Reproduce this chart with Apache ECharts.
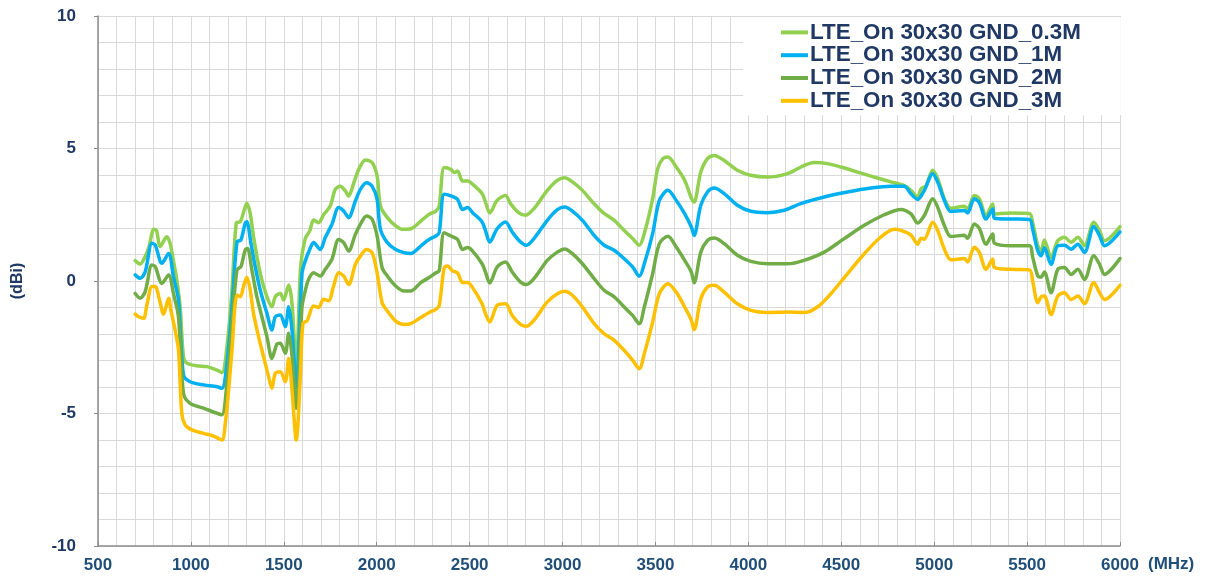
<!DOCTYPE html>
<html>
<head>
<meta charset="utf-8">
<script src="https://cdn.jsdelivr.net/npm/echarts@6/dist/echarts.min.js"></script>
<style>
  html, body { margin: 0; padding: 0; background: #fff; }
  #chart { width: 1212px; height: 580px; }
</style>
</head>
<body>
<div id="chart"></div>
<script>
// 系列名称 / 颜色
const names = ['LTE_On 30x30 GND_0.3M', 'LTE_On 30x30 GND_1M', 'LTE_On 30x30 GND_2M', 'LTE_On 30x30 GND_3M']
const colors = ['#92d050', '#00b0f0', '#70ad47', '#ffc000']

// 0.3M
const freq03 = [700, 727, 754, 775, 800, 815, 835, 870, 888, 905, 924, 942, 960, 978, 1032, 1086, 1140, 1167, 1194, 1221, 1244, 1266, 1287, 1301, 1319, 1337, 1373, 1409, 1436, 1454, 1481, 1499, 1526, 1544, 1567, 1590, 1615, 1640, 1660, 1687, 1714, 1750, 1777, 1804, 1831, 1849, 1877, 1903, 1939, 1975, 2002, 2020, 2057, 2102, 2138, 2183, 2237, 2282, 2318, 2336, 2363, 2399, 2417, 2435, 2462, 2489, 2516, 2567, 2585, 2608, 2648, 2693, 2720, 2765, 2801, 2846, 2918, 2972, 3012, 3053, 3107, 3161, 3215, 3278, 3332, 3377, 3413, 3440, 3485, 3512, 3540, 3567, 3612, 3657, 3695, 3708, 3744, 3780, 3816, 3870, 3941, 4013, 4103, 4211, 4282, 4354, 4426, 4498, 4588, 4678, 4767, 4839, 4875, 4911, 4929, 4956, 4992, 5019, 5055, 5090, 5162, 5180, 5216, 5243, 5279, 5315, 5324, 5414, 5513, 5530, 5557, 5575, 5593, 5629, 5665, 5701, 5737, 5773, 5809, 5859, 5890, 5917, 6000]
const gain03 = [0.77, 0.64, 0.92, 1.3, 1.95, 1.9, 1.3, 1.67, 1.42, 0.8, 0.04, -0.97, -2.86, -3.1, -3.2, -3.23, -3.36, -3.46, -2.48, -0.34, 2.18, 2.24, 2.68, 2.93, 2.55, 1.67, 0.29, -0.59, -0.97, -0.59, -0.47, -0.72, -0.15, -0.84, -3.3, 0.5, 1.6, 1.9, 2.3, 2.2, 2.5, 2.83, 3.46, 3.58, 3.4, 3.2, 3.71, 4.21, 4.57, 4.47, 3.96, 2.83, 2.39, 2.08, 1.95, 1.97, 2.26, 2.52, 2.64, 2.83, 4.28, 4.21, 4.09, 4.15, 3.77, 3.77, 3.65, 3.3, 2.98, 2.57, 3.04, 3.23, 2.92, 2.57, 2.48, 2.73, 3.42, 3.8, 3.9, 3.74, 3.42, 2.98, 2.6, 2.29, 1.91, 1.6, 1.35, 1.79, 3.11, 4.24, 4.62, 4.68, 4.3, 3.8, 3.1, 2.98, 4.11, 4.62, 4.74, 4.55, 4.18, 3.99, 3.92, 4.05, 4.3, 4.47, 4.43, 4.3, 4.11, 3.92, 3.74, 3.6, 3.42, 3.16, 3.48, 3.6, 4.18, 3.86, 3.1, 2.75, 2.82, 2.72, 3.23, 3.1, 2.47, 2.91, 2.53, 2.57, 2.55, 2.2, 1.35, 1.1, 1.55, 0.89, 1.52, 1.65, 1.46, 1.65, 1.33, 2.22, 1.9, 1.52, 2.05]

// 1M
const freq1 = [700, 727, 754, 790, 808, 844, 880, 906, 933, 960, 996, 1068, 1140, 1167, 1194, 1221, 1248, 1269, 1292, 1301, 1323, 1346, 1373, 1409, 1436, 1454, 1481, 1508, 1526, 1544, 1567, 1598, 1615, 1640, 1660, 1696, 1723, 1759, 1795, 1822, 1849, 1885, 1912, 1945, 1975, 2002, 2020, 2057, 2102, 2147, 2183, 2237, 2282, 2318, 2336, 2363, 2399, 2435, 2462, 2489, 2516, 2567, 2585, 2608, 2648, 2693, 2729, 2774, 2806, 2846, 2918, 2972, 3012, 3053, 3107, 3170, 3224, 3278, 3332, 3377, 3413, 3440, 3485, 3521, 3567, 3612, 3657, 3693, 3708, 3744, 3780, 3816, 3870, 3941, 4013, 4103, 4193, 4282, 4408, 4534, 4660, 4767, 4839, 4875, 4911, 4947, 4992, 5019, 5055, 5090, 5162, 5180, 5216, 5243, 5279, 5315, 5324, 5414, 5513, 5530, 5557, 5575, 5593, 5629, 5665, 5701, 5737, 5773, 5809, 5859, 5890, 5917, 6000]
const gain1 = [0.23, 0.1, 0.35, 1.42, 1.36, 0.67, 1.04, 0.16, -0.72, -3.55, -3.8, -3.92, -3.99, -4.05, -3.1, -0.97, 1.48, 1.55, 2.18, 2.24, 1.42, 0.54, -0.34, -1.22, -1.85, -1.35, -1.28, -1.72, -0.97, -1.85, -4.0, 0.29, 0.75, 1.2, 1.45, 1.19, 1.64, 2.14, 2.77, 2.64, 2.39, 3.02, 3.46, 3.71, 3.58, 3.08, 1.95, 1.45, 1.19, 1.07, 1.04, 1.32, 1.57, 1.7, 1.82, 3.27, 3.21, 3.08, 2.7, 2.77, 2.58, 2.23, 1.91, 1.47, 1.97, 2.23, 1.85, 1.47, 1.35, 1.6, 2.29, 2.69, 2.79, 2.64, 2.29, 1.72, 1.35, 1.16, 0.84, 0.53, 0.18, 0.65, 1.79, 3.04, 3.42, 3.04, 2.54, 2.04, 1.72, 2.86, 3.36, 3.51, 3.3, 2.86, 2.63, 2.58, 2.67, 2.92, 3.17, 3.36, 3.51, 3.58, 3.58, 3.29, 3.08, 3.42, 4.05, 3.73, 3.04, 2.62, 2.66, 2.57, 3.1, 2.95, 2.34, 2.72, 2.37, 2.34, 2.32, 1.95, 1.15, 0.95, 1.25, 0.63, 1.33, 1.35, 1.2, 1.39, 1.08, 2.06, 1.71, 1.33, 1.85]

// 2M
const freq2 = [700, 727, 754, 790, 808, 844, 880, 906, 933, 960, 996, 1068, 1140, 1167, 1194, 1221, 1248, 1269, 1292, 1305, 1328, 1355, 1382, 1409, 1436, 1463, 1481, 1508, 1526, 1544, 1567, 1598, 1615, 1632, 1660, 1696, 1723, 1759, 1795, 1822, 1849, 1885, 1912, 1945, 1975, 2002, 2029, 2057, 2102, 2147, 2183, 2237, 2282, 2318, 2336, 2363, 2399, 2435, 2462, 2489, 2516, 2567, 2585, 2608, 2648, 2693, 2729, 2774, 2806, 2846, 2918, 2972, 3012, 3053, 3107, 3170, 3224, 3278, 3332, 3377, 3413, 3440, 3485, 3521, 3567, 3612, 3657, 3693, 3708, 3744, 3780, 3816, 3870, 3941, 4013, 4103, 4211, 4300, 4408, 4516, 4624, 4731, 4821, 4875, 4911, 4947, 4992, 5019, 5055, 5090, 5162, 5180, 5216, 5243, 5279, 5315, 5324, 5414, 5513, 5530, 5557, 5575, 5593, 5629, 5665, 5701, 5737, 5773, 5809, 5859, 5890, 5917, 6000]
const gain2 = [-0.47, -0.65, -0.4, 0.6, 0.54, -0.09, 0.23, -0.47, -1.35, -4.24, -4.62, -4.8, -4.99, -5.05, -3.86, -1.6, 0.42, 0.54, 1.17, 1.23, 0.42, -0.59, -1.35, -2.1, -2.92, -2.38, -2.35, -2.73, -1.97, -2.8, -4.8, -0.97, -0.38, 0.04, 0.31, 0.19, 0.44, 0.82, 1.57, 1.45, 1.13, 1.76, 2.14, 2.45, 2.33, 1.7, 0.5, 0.19, -0.19, -0.38, -0.38, -0.06, 0.13, 0.31, 0.38, 1.82, 1.7, 1.57, 1.19, 1.26, 1.13, 0.65, 0.34, -0.08, 0.53, 0.72, 0.34, -0.04, -0.13, 0.09, 0.78, 1.09, 1.21, 1.03, 0.65, 0.09, -0.35, -0.6, -0.98, -1.3, -1.61, -0.98, 0.28, 1.41, 1.69, 1.28, 0.78, 0.34, -0.07, 1.09, 1.53, 1.62, 1.41, 0.97, 0.74, 0.65, 0.65, 0.78, 1.09, 1.6, 2.1, 2.5, 2.7, 2.53, 2.19, 2.47, 3.1, 2.78, 2.09, 1.68, 1.73, 1.61, 2.15, 1.99, 1.39, 1.77, 1.43, 1.33, 1.33, 0.9, 0.2, 0.15, 0.34, -0.44, 0.44, 0.51, 0.25, 0.44, 0.06, 0.95, 0.63, 0.25, 0.85]

// 3M
const freq3 = [700, 718, 745, 763, 790, 808, 831, 853, 880, 892, 915, 933, 951, 969, 1005, 1068, 1122, 1167, 1185, 1203, 1221, 1248, 1266, 1283, 1301, 1319, 1337, 1364, 1391, 1418, 1436, 1454, 1481, 1508, 1526, 1544, 1567, 1589, 1603, 1625, 1660, 1687, 1714, 1741, 1768, 1795, 1822, 1849, 1885, 1912, 1945, 1975, 2002, 2029, 2057, 2102, 2147, 2183, 2237, 2282, 2318, 2336, 2363, 2381, 2408, 2435, 2462, 2489, 2516, 2567, 2585, 2608, 2648, 2693, 2729, 2774, 2806, 2846, 2918, 2972, 3012, 3053, 3107, 3170, 3224, 3278, 3332, 3377, 3413, 3440, 3485, 3521, 3567, 3612, 3657, 3693, 3708, 3744, 3780, 3816, 3870, 3941, 4013, 4103, 4211, 4300, 4372, 4444, 4534, 4624, 4713, 4785, 4821, 4875, 4911, 4929, 4947, 4992, 5019, 5055, 5090, 5162, 5180, 5216, 5243, 5279, 5315, 5324, 5414, 5513, 5530, 5557, 5575, 5593, 5629, 5665, 5701, 5737, 5773, 5809, 5859, 5890, 5917, 6000]
const gain3 = [-1.25, -1.35, -1.41, -0.91, -0.21, -0.21, -0.72, -1.25, -0.65, -1.09, -1.85, -2.6, -5.0, -5.43, -5.62, -5.75, -5.85, -6.0, -5.37, -4.11, -2.6, -0.53, -0.59, -0.21, 0.14, -0.34, -1.22, -2.1, -2.86, -3.61, -4.05, -3.48, -3.42, -3.8, -2.92, -4.11, -6.0, -3.61, -1.6, -1.5, -0.94, -1.0, -0.69, -0.75, -0.19, 0.31, 0.19, -0.13, 0.63, 0.94, 1.19, 1.07, 0.31, -0.82, -1.13, -1.51, -1.64, -1.61, -1.38, -1.19, -1.07, -0.94, 0.5, 0.57, 0.38, 0.31, -0.06, -0.06, -0.25, -0.86, -1.23, -1.55, -0.92, -0.86, -1.3, -1.64, -1.71, -1.48, -0.79, -0.48, -0.39, -0.54, -0.98, -1.61, -1.99, -2.24, -2.62, -2.99, -3.31, -2.74, -1.55, -0.48, -0.1, -0.42, -0.98, -1.48, -1.84, -0.67, -0.23, -0.16, -0.42, -0.86, -1.11, -1.19, -1.17, -1.19, -0.98, -0.48, 0.28, 1.03, 1.66, 1.95, 1.91, 1.73, 1.39, 1.61, 1.58, 2.22, 1.9, 1.2, 0.8, 0.85, 0.72, 1.27, 1.08, 0.44, 0.82, 0.51, 0.44, 0.42, 0.0, -0.82, -0.6, -0.57, -1.27, -0.57, -0.44, -0.7, -0.57, -0.85, -0.06, -0.44, -0.7, -0.16]

const freqs = [freq03, freq1, freq2, freq3]
const gains = [gain03, gain1, gain2, gain3]

const chart = echarts.init(document.getElementById('chart'))
const font = '"Liberation Sans", Arial, sans-serif'
const gridLine = { lineStyle: { color: '#d9d9d9', width: 1 } }

const option = {
  animation: false,
  backgroundColor: '#fff',
  grid: { left: 98, right: 92, top: 16, bottom: 34 },
  legend: {
    data: names,
    orient: 'vertical',
    left: 743,
    top: 17,
    padding: [4, 40, 3, 38],
    backgroundColor: '#fff',
    itemWidth: 27,
    itemHeight: 4,
    itemGap: 0,
    icon: 'rect',
    selectedMode: false,
    textStyle: { color: '#1f3864', fontSize: 22.4, fontWeight: 'bold', fontFamily: font, lineHeight: 22.8, padding: [0, 0, 0, -3] }
  },
  xAxis: {
    type: 'value',
    min: 500,
    max: 6000,
    interval: 500,
    name: '(MHz)',
    nameLocation: 'end',
    nameGap: 28,
    nameTextStyle: { color: '#1f4e79', fontSize: 17, fontWeight: 'bold', fontFamily: font, verticalAlign: 'top', padding: [10, 0, 0, 0] },
    axisLine: { onZero: false, lineStyle: { color: '#8c8c8c', width: 1.5 } },
    axisTick: { show: true, inside: true, length: 4, lineStyle: { color: '#8c8c8c' } },
    axisLabel: { color: '#1f4e79', fontSize: 17, fontWeight: 'bold', fontFamily: font, margin: 11, formatter: v => String(v) },
    splitLine: { show: true, ...gridLine },
    minorTick: { show: false, splitNumber: 5 },
    minorSplitLine: { show: true, ...gridLine }
  },
  yAxis: {
    type: 'value',
    min: -10,
    max: 10,
    interval: 5,
    name: '(dBi)',
    nameLocation: 'middle',
    nameGap: 72,
    nameTextStyle: { color: '#1f3864', fontSize: 16, fontWeight: 'bold', fontFamily: font },
    axisLine: { show: true, onZero: false, lineStyle: { color: '#8c8c8c', width: 1.5 } },
    axisTick: { show: true, length: 4, lineStyle: { color: '#8c8c8c' } },
    axisLabel: { color: '#1f3864', fontSize: 17, fontWeight: 'bold', fontFamily: font, margin: 22 },
    splitLine: { show: true, ...gridLine },
    minorTick: { show: false, splitNumber: 5 },
    minorSplitLine: { show: true, ...gridLine }
  },
  series: names.map((name, k) => ({
    name,
    type: 'line',
    data: freqs[k].map((f, i) => [f, gains[k][i]]),
    showSymbol: false,
    symbol: 'none',
    smooth: 0.3,
    color: colors[k],
    lineStyle: { width: 3.5, color: colors[k], cap: 'round', join: 'round' }
  }))
}

chart.setOption(option)
</script>
</body>
</html>
